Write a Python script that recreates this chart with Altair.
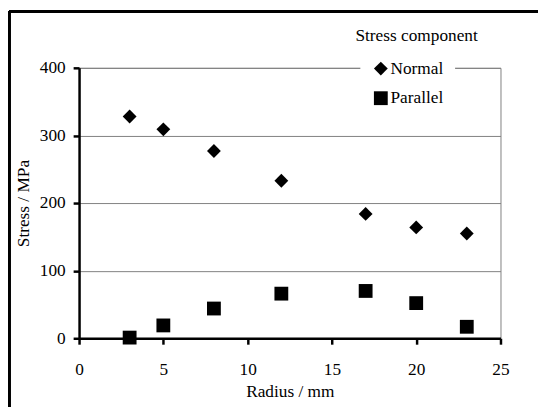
import altair as alt
import pandas as pd

radius = [3, 5, 8, 12, 17, 20, 23]
normal = [328, 309, 277, 233, 184, 164, 155]
parallel = [1, 19, 44, 66, 70, 52, 17]
series = ["Normal", "Parallel"]
legend_title = "Stress component"

rows = []
for r, n, p in zip(radius, normal, parallel):
    rows.append({"Radius": r, "Stress": n, "Component": series[0]})
    rows.append({"Radius": r, "Stress": p, "Component": series[1]})
df = pd.DataFrame(rows)

FONT = "Liberation Serif"
FS = 17.5

points = alt.Chart(df).mark_point(filled=True, color="black", opacity=1, size=196).encode(
    x=alt.X("Radius:Q", scale=alt.Scale(domain=[0, 25], nice=False),
            axis=alt.Axis(values=[0, 5, 10, 15, 20, 25], title="Radius / mm", grid=False,
                          domainColor="black", domainWidth=2.5, tickColor="black", tickWidth=2.5,
                          tickSize=6, labelPadding=17, titlePadding=4, labelFlush=False)),
    y=alt.Y("Stress:Q", scale=alt.Scale(domain=[0, 400], nice=False),
            axis=alt.Axis(values=[0, 100, 200, 300, 400], title="Stress / MPa", grid=True,
                          gridColor="#808080", gridWidth=1,
                          domainColor="black", domainWidth=2.5, tickColor="black", tickWidth=2.5,
                          tickSize=6, labelPadding=8, titlePadding=7)),
    shape=alt.Shape("Component:N",
                    scale=alt.Scale(domain=series, range=["diamond", "square"]),
                    legend=alt.Legend(title=None, orient="none", legendX=285, legendY=-20,
                                      fillColor="white", padding=12, rowPadding=9,
                                      symbolSize=196, symbolFillColor="black",
                                      symbolStrokeColor="black", labelOffset=1,
                                      labelFont=FONT, labelFontSize=FS, labelColor="black")),
)

title_text = alt.Chart(pd.DataFrame({"t": [legend_title]})).mark_text(
    font=FONT, fontSize=FS, color="black", align="center", baseline="middle").encode(
    x=alt.value(342), y=alt.value(-32), text="t:N")

frame_top = alt.Chart(df).mark_rule(color="black", strokeWidth=2.5).encode(
    x=alt.value(-71), x2=alt.value(470), y=alt.value(-57))
frame_left = alt.Chart(df).mark_rule(color="black", strokeWidth=2.5).encode(
    x=alt.value(-71), y=alt.value(-57), y2=alt.value(345))

chart = alt.layer(frame_top, frame_left, points, title_text).properties(
    width=427, height=274,
    autosize=alt.AutoSizeParams(type="none"),
    padding={"left": 72, "top": 58, "right": 38, "bottom": 67},
).configure(background="white").configure_view(stroke="#808080", strokeWidth=1).configure_axis(
    labelFont=FONT, labelFontSize=FS, labelColor="black",
    titleFont=FONT, titleFontSize=FS, titleFontWeight="normal", titleColor="black",
)

chart.save("out.html", embed_options={"renderer": "svg", "actions": False})
